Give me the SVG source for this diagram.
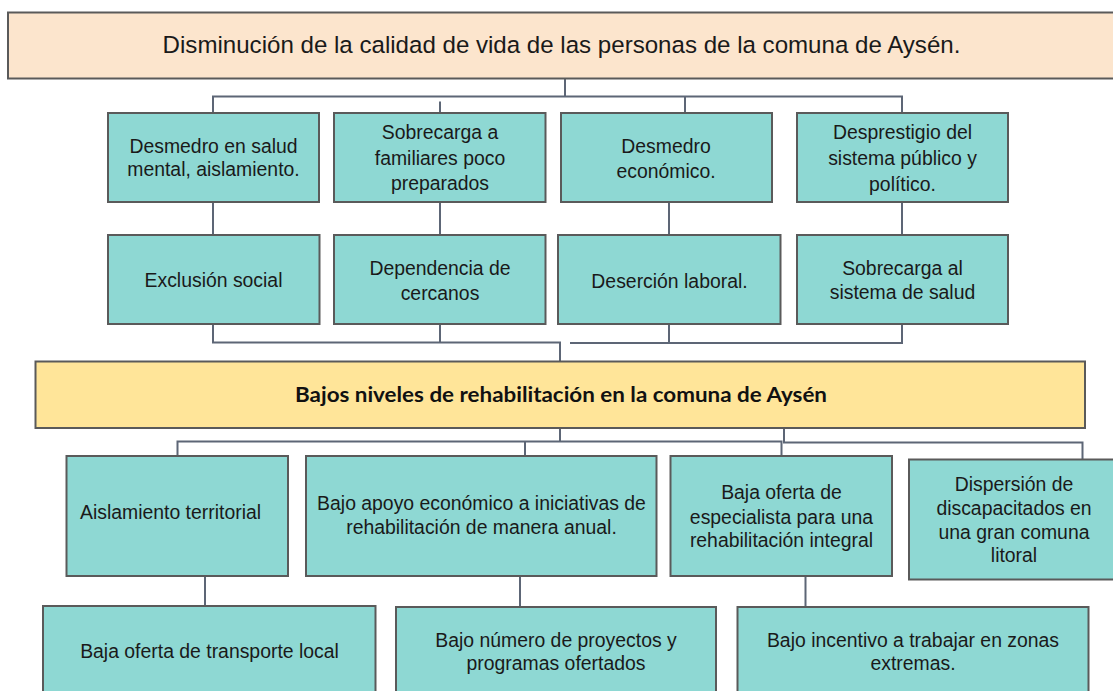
<svg xmlns="http://www.w3.org/2000/svg" width="1113" height="691" viewBox="0 0 1113 691">
<defs>
<style>
.box{fill:#8ed8d3;stroke:#5a5a5a;stroke-width:2}
.top{fill:#fce5cd;stroke:#5a5a5a;stroke-width:2}
.mid{fill:#ffe599;stroke:#5a5a5a;stroke-width:2}
.t{font-family:"Liberation Sans",Arial,sans-serif;font-size:19.4px;fill:#1a1a1a;text-anchor:middle}
.tt{font-family:"Liberation Sans",Arial,sans-serif;font-size:24.1px;fill:#1a1a1a;text-anchor:middle}
.tb{font-family:Lato,"Liberation Sans",sans-serif;font-weight:bold;font-size:21px;fill:#111;text-anchor:middle}
.c{fill:none;stroke:#5d6676;stroke-width:2}
</style>
</defs>
<rect width="1113" height="691" fill="#ffffff"/>
<g id="connectors" class="c">
<path d="M565,78 V96.5 M213,113 V96.5 H902 V113 M685,96.5 V113 M440,101.5 V113"/>
<path d="M213,202 V235 M440,202 V235 M669,202 V235 M902,202 V235"/>
<path d="M213,324 V342.5 H560 V361.5 M440,324 V342.5 M570,343 H669 V324 M669,343 H902 V324"/>
<path d="M560,428 V441.5 M177.5,456 V441.5 H781.5 V456 M525,441.5 V456 M784,428 V442.5 H1082.5 V459"/>
<path d="M205,576 V606 M520,576 V607 M805.5,576 V607"/>
</g>
<g id="n-top">
<rect class="top" x="8" y="12.5" width="1115" height="66"/>
<text class="tt" x="561.5" y="53.3">Disminución de la calidad de vida de las personas de la comuna de Aysén.</text>
</g>
<g id="n-a">
<rect class="box" x="108" y="113" width="211" height="89"/>
<text class="t" x="213.5" y="153.3">Desmedro en salud</text>
<text class="t" x="213.5" y="175.5">mental, aislamiento.</text>
</g>
<g id="n-b">
<rect class="box" x="334" y="113" width="211.5" height="89"/>
<text class="t" x="440" y="139">Sobrecarga a</text>
<text class="t" x="440" y="164.5">familiares poco</text>
<text class="t" x="440" y="190">preparados</text>
</g>
<g id="n-c">
<rect class="box" x="561" y="113" width="211" height="89"/>
<text class="t" x="666" y="153">Desmedro</text>
<text class="t" x="666" y="178">económico.</text>
</g>
<g id="n-d">
<rect class="box" x="797" y="113" width="211" height="89"/>
<text class="t" x="902.5" y="139">Desprestigio del</text>
<text class="t" x="902.5" y="164.5">sistema público y</text>
<text class="t" x="902.5" y="190.5">político.</text>
</g>
<g id="n-e">
<rect class="box" x="108" y="235" width="211.5" height="89"/>
<text class="t" x="213.5" y="287">Exclusión social</text>
</g>
<g id="n-f">
<rect class="box" x="334" y="235" width="211.5" height="89"/>
<text class="t" x="440" y="275">Dependencia de</text>
<text class="t" x="440" y="300">cercanos</text>
</g>
<g id="n-g">
<rect class="box" x="558" y="235" width="222.5" height="89"/>
<text class="t" x="669.5" y="288">Deserción laboral.</text>
</g>
<g id="n-h">
<rect class="box" x="797" y="235" width="211" height="89"/>
<text class="t" x="902.5" y="275">Sobrecarga al</text>
<text class="t" x="902.5" y="299">sistema de salud</text>
</g>
<g id="n-mid">
<rect class="mid" x="35.5" y="361.5" width="1049.5" height="66.5"/>
<text class="tb" x="561" y="402.3" textLength="532" lengthAdjust="spacingAndGlyphs">Bajos niveles de rehabilitación en la comuna de Aysén</text>
</g>
<g id="n-i">
<rect class="box" x="66.5" y="456" width="221.5" height="120"/>
<text class="t" x="80" y="519" style="text-anchor:start">Aislamiento territorial</text>
</g>
<g id="n-j">
<rect class="box" x="306" y="456" width="350.5" height="120"/>
<text class="t" x="481.5" y="510">Bajo apoyo económico a iniciativas de</text>
<text class="t" x="481.5" y="534">rehabilitación de manera anual.</text>
</g>
<g id="n-k">
<rect class="box" x="670.5" y="456" width="221.5" height="120"/>
<text class="t" x="781.5" y="499">Baja oferta de</text>
<text class="t" x="781.5" y="523.5">especialista para una</text>
<text class="t" x="781.5" y="547">rehabilitación integral</text>
</g>
<g id="n-l">
<rect class="box" x="909" y="459.5" width="210" height="120"/>
<text class="t" x="1014" y="491">Dispersión de</text>
<text class="t" x="1014" y="515">discapacitados en</text>
<text class="t" x="1014" y="538.5">una gran comuna</text>
<text class="t" x="1014" y="562">litoral</text>
</g>
<g id="n-m">
<rect class="box" x="43" y="606" width="332.5" height="100"/>
<text class="t" x="209.5" y="658">Baja oferta de transporte local</text>
</g>
<g id="n-n">
<rect class="box" x="396" y="607" width="320" height="100"/>
<text class="t" x="556" y="647.3">Bajo número de proyectos y</text>
<text class="t" x="556" y="670">programas ofertados</text>
</g>
<g id="n-o">
<rect class="box" x="737.5" y="607" width="351" height="100"/>
<text class="t" x="913" y="647.3">Bajo incentivo a trabajar en zonas</text>
<text class="t" x="913" y="670">extremas.</text>
</g>
</svg>
